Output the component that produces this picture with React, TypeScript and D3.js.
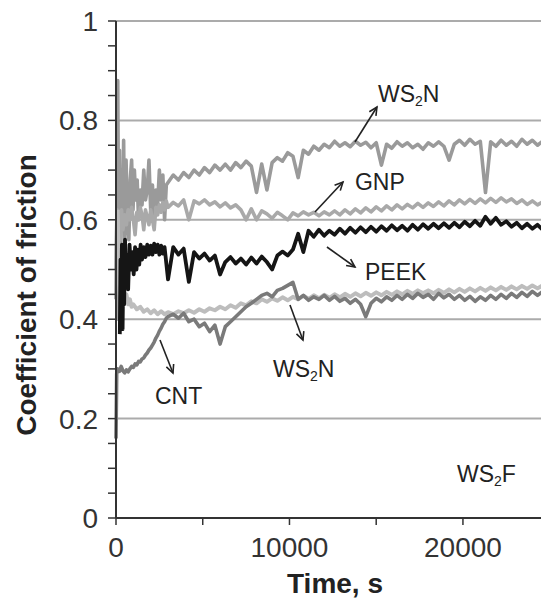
import React from 'react';
import * as d3 from 'd3';

const W = 541;
const H = 601;

// ---------- data ----------
const TIME = [3000, 3300, 3600, 3900, 4200, 4500, 4800, 5100, 5400, 5700, 6000, 6300, 6600, 6900, 7200, 7500, 7800, 8100, 8400, 8700, 9000, 9300, 9600, 9900, 10200, 10500, 10800, 11100, 11400, 11700, 12000, 12300, 12600, 12900, 13200, 13500, 13800, 14100, 14400, 14700, 15000, 15300, 15600, 15900, 16200, 16500, 16800, 17100, 17400, 17700, 18000, 18300, 18600, 18900, 19200, 19500, 19800, 20100, 20400, 20700, 21000, 21300, 21600, 21900, 22200, 22500, 22800, 23100, 23400, 23700, 24000, 24300, 24600];

const ws2nTopEarly: [number, number][] = [[0, 0.44], [50, 0.62], [100, 0.88], [150, 0.58], [200, 0.74], [260, 0.52], [320, 0.7], [380, 0.6], [440, 0.76], [500, 0.55], [580, 0.72], [660, 0.6], [740, 0.56], [820, 0.68], [900, 0.72], [980, 0.62], [1060, 0.7], [1140, 0.64], [1220, 0.68], [1300, 0.6], [1400, 0.66], [1500, 0.63], [1600, 0.7], [1700, 0.64], [1800, 0.66], [1900, 0.72], [2000, 0.62], [2100, 0.67], [2200, 0.6], [2300, 0.66], [2400, 0.63], [2500, 0.7], [2600, 0.64], [2700, 0.69], [2800, 0.6], [2900, 0.67]];
const ws2nTop = [0.675, 0.69, 0.68, 0.695, 0.685, 0.7, 0.69, 0.705, 0.695, 0.71, 0.7, 0.712, 0.7, 0.715, 0.705, 0.718, 0.708, 0.655, 0.712, 0.66, 0.715, 0.725, 0.718, 0.735, 0.728, 0.685, 0.74, 0.732, 0.748, 0.74, 0.752, 0.745, 0.758, 0.748, 0.755, 0.747, 0.758, 0.75, 0.756, 0.745, 0.755, 0.71, 0.752, 0.744, 0.757, 0.748, 0.755, 0.745, 0.752, 0.742, 0.755, 0.748, 0.757, 0.748, 0.72, 0.752, 0.76, 0.75, 0.762, 0.752, 0.758, 0.655, 0.757, 0.748, 0.76, 0.75, 0.758, 0.748, 0.762, 0.752, 0.76, 0.75, 0.758];

const gnpEarly: [number, number][] = [[0, 0.5], [60, 0.62], [120, 0.4], [180, 0.6], [250, 0.56], [320, 0.62], [400, 0.58], [500, 0.61], [600, 0.59], [700, 0.62], [800, 0.6], [900, 0.625], [1000, 0.6], [1100, 0.57], [1200, 0.615], [1300, 0.6], [1400, 0.625], [1500, 0.61], [1600, 0.58], [1700, 0.62], [1800, 0.605], [1900, 0.59], [2000, 0.62], [2100, 0.6], [2200, 0.58], [2300, 0.625], [2400, 0.61], [2500, 0.63], [2600, 0.615], [2700, 0.635], [2800, 0.62], [2900, 0.638]];
const gnp = [0.625, 0.635, 0.628, 0.64, 0.6, 0.638, 0.632, 0.64, 0.63, 0.636, 0.626, 0.634, 0.624, 0.63, 0.62, 0.6, 0.622, 0.6, 0.618, 0.612, 0.603, 0.615, 0.608, 0.6, 0.614, 0.608, 0.616, 0.61, 0.615, 0.608, 0.616, 0.61, 0.618, 0.61, 0.62, 0.612, 0.622, 0.614, 0.624, 0.616, 0.626, 0.618, 0.628, 0.62, 0.63, 0.622, 0.631, 0.624, 0.633, 0.625, 0.634, 0.627, 0.636, 0.628, 0.638, 0.63, 0.64, 0.632, 0.641, 0.633, 0.642, 0.634, 0.643, 0.635, 0.644, 0.636, 0.642, 0.633, 0.64, 0.631, 0.638, 0.63, 0.636];

const ws2nLowEarly: [number, number][] = [[100, 0.62], [150, 0.48], [220, 0.45], [300, 0.44], [400, 0.46], [500, 0.44], [600, 0.45], [700, 0.43], [800, 0.44], [900, 0.425], [1000, 0.43], [1200, 0.42], [1400, 0.425], [1600, 0.415], [1800, 0.42], [2000, 0.412], [2200, 0.418], [2400, 0.41], [2600, 0.416], [2800, 0.41]];
const ws2nLow = [0.414, 0.41, 0.416, 0.412, 0.418, 0.413, 0.42, 0.415, 0.422, 0.418, 0.425, 0.42, 0.428, 0.423, 0.432, 0.428, 0.436, 0.432, 0.44, 0.435, 0.442, 0.437, 0.444, 0.438, 0.445, 0.44, 0.447, 0.441, 0.448, 0.442, 0.449, 0.443, 0.45, 0.444, 0.451, 0.445, 0.452, 0.446, 0.453, 0.447, 0.454, 0.448, 0.455, 0.449, 0.456, 0.45, 0.457, 0.451, 0.458, 0.452, 0.458, 0.452, 0.459, 0.453, 0.46, 0.454, 0.461, 0.455, 0.462, 0.456, 0.463, 0.457, 0.464, 0.458, 0.465, 0.459, 0.466, 0.46, 0.467, 0.461, 0.468, 0.462, 0.468];

const cntEarly: [number, number][] = [[0, 0.16], [40, 0.29], [100, 0.3], [200, 0.295], [300, 0.305], [400, 0.296], [500, 0.292], [600, 0.298], [700, 0.294], [800, 0.3], [900, 0.305], [1000, 0.303], [1100, 0.31], [1200, 0.308], [1300, 0.315], [1400, 0.314], [1500, 0.32], [1600, 0.322], [1700, 0.328], [1800, 0.332], [1900, 0.338], [2000, 0.342], [2100, 0.348], [2200, 0.354], [2300, 0.362], [2400, 0.368], [2500, 0.376], [2600, 0.382], [2700, 0.39], [2800, 0.395], [2900, 0.402]];
const cnt = [0.405, 0.41, 0.402, 0.412, 0.395, 0.4, 0.385, 0.392, 0.375, 0.388, 0.35, 0.385, 0.395, 0.405, 0.415, 0.425, 0.432, 0.44, 0.448, 0.452, 0.445, 0.458, 0.462, 0.468, 0.474, 0.44, 0.448, 0.438, 0.445, 0.44, 0.448, 0.438, 0.446, 0.436, 0.442, 0.432, 0.44, 0.43, 0.405, 0.432, 0.442, 0.435, 0.445, 0.438, 0.448, 0.44, 0.45, 0.442, 0.452, 0.444, 0.45, 0.44, 0.452, 0.443, 0.45, 0.44, 0.448, 0.438, 0.446, 0.436, 0.445, 0.438, 0.448, 0.44, 0.45, 0.442, 0.452, 0.444, 0.454, 0.446, 0.456, 0.448, 0.456];

const peekEarly: [number, number][] = [[220, 0.37], [260, 0.52], [300, 0.41], [340, 0.55], [380, 0.38], [420, 0.5], [470, 0.43], [520, 0.56], [580, 0.47], [640, 0.53], [700, 0.46], [780, 0.55], [860, 0.5], [940, 0.535], [1020, 0.49], [1100, 0.545], [1180, 0.5], [1260, 0.54], [1340, 0.51], [1420, 0.55], [1500, 0.52], [1600, 0.545], [1700, 0.525], [1800, 0.55], [1900, 0.53], [2000, 0.548], [2100, 0.53], [2200, 0.552], [2300, 0.535], [2400, 0.55], [2500, 0.53], [2600, 0.548], [2700, 0.532], [2800, 0.545]];
const peek = [0.48, 0.545, 0.53, 0.542, 0.475, 0.535, 0.522, 0.532, 0.518, 0.528, 0.49, 0.515, 0.525, 0.512, 0.522, 0.51, 0.524, 0.512, 0.526, 0.515, 0.5, 0.528, 0.536, 0.528, 0.54, 0.572, 0.535, 0.578, 0.566, 0.58, 0.568, 0.578, 0.57, 0.582, 0.572, 0.584, 0.574, 0.585, 0.575, 0.586, 0.576, 0.587, 0.578, 0.589, 0.579, 0.588, 0.578, 0.59, 0.58, 0.591, 0.582, 0.592, 0.583, 0.593, 0.584, 0.594, 0.585, 0.596, 0.587, 0.598, 0.588, 0.606, 0.592, 0.604, 0.59, 0.597, 0.586, 0.594, 0.583, 0.592, 0.582, 0.59, 0.58];

const Y_TICKS = [0, 0.05, 0.1, 0.15, 0.2, 0.25, 0.3, 0.35, 0.4, 0.45, 0.5, 0.55, 0.6, 0.65, 0.7, 0.75, 0.8, 0.85, 0.9, 0.95, 1];
const Y_LABELS = [0, 0.2, 0.4, 0.6, 0.8, 1];
const GRID = [0.2, 0.4, 0.6, 0.8, 1];
const X_TICKS = [0, 5000, 10000, 15000, 20000];
const X_LABELS = [0, 10000, 20000];

// annotations: label text, label anchor (t, v), arrow from (t, v) to (t, v)
const ANNOTATIONS = [
  { main: 'WS', sub: '2', tail: 'N', t: 15101, v: 0.837, arrow: [[13775, 0.7565], [15043, 0.827]] },
  { main: 'GNP', sub: '', tail: '', t: 13775, v: 0.66, arrow: [[11470, 0.6157], [13084, 0.676]] },
  { main: 'PEEK', sub: '', tail: '', t: 14352, v: 0.479, arrow: [[12161, 0.5453], [13775, 0.505]] },
  { main: 'WS', sub: '2', tail: 'N', t: 9050, v: 0.284, arrow: [[10029, 0.4286], [10778, 0.358]] },
  { main: 'CNT', sub: '', tail: '', t: 2248, v: 0.229, arrow: [[2536, 0.358], [3285, 0.2918]] },
  { main: 'WS', sub: '2', tail: 'F', t: 19654, v: 0.072, arrow: null },
];

type Series = { name: string; early: [number, number][]; main: number[]; color: string; width: number };
const SERIES: Series[] = [
  { name: 'WS2N-top', early: ws2nTopEarly, main: ws2nTop, color: '#9a9a9a', width: 3.6 },
  { name: 'GNP', early: gnpEarly, main: gnp, color: '#a9a9a9', width: 3.6 },
  { name: 'WS2N-low', early: ws2nLowEarly, main: ws2nLow, color: '#bdbdbd', width: 4 },
  { name: 'CNT', early: cntEarly, main: cnt, color: '#7a7a7a', width: 3.6 },
  { name: 'PEEK', early: peekEarly, main: peek, color: '#151515', width: 3.8 },
];

export default function App() {
  const x = d3.scaleLinear().domain([0, 24500]).range([116, 541]);
  const y = d3.scaleLinear().domain([0, 1]).range([518, 21]);
  const line = d3
    .line<[number, number]>()
    .x((d) => x(d[0]))
    .y((d) => y(d[1]));

  const font = '"Liberation Sans", Arial, Helvetica, sans-serif';
  const axisColor = '#333';

  const arrowHead = (x1: number, y1: number, x2: number, y2: number) => {
    const ang = Math.atan2(y2 - y1, x2 - x1);
    const len = 9;
    const spread = Math.PI / 7;
    const a1 = ang + Math.PI - spread;
    const a2 = ang + Math.PI + spread;
    return `M${x2 + len * Math.cos(a1)},${y2 + len * Math.sin(a1)}L${x2},${y2}L${x2 + len * Math.cos(a2)},${y2 + len * Math.sin(a2)}`;
  };

  return (
    <svg
      width={W}
      height={H}
      style={{ position: 'absolute', left: 0, top: 0, background: '#fff' }}
      fontFamily={font}
    >
      <rect x={0} y={0} width={W} height={H} fill="#fff" />
      {/* grid */}
      {GRID.map((g) => (
        <line key={g} x1={x(0)} x2={W} y1={y(g)} y2={y(g)} stroke="#ababab" strokeWidth={2} />
      ))}
      {/* series */}
      {SERIES.map((s) => {
        const pts: [number, number][] = [...s.early, ...s.main.map((v, i) => [TIME[i], v] as [number, number])];
        return (
          <path
            key={s.name}
            d={line(pts) || ''}
            fill="none"
            stroke={s.color}
            strokeWidth={s.width}
            strokeLinejoin="round"
          />
        );
      })}
      {/* axes */}
      <line x1={x(0)} x2={x(0)} y1={y(0)} y2={y(1)} stroke={axisColor} strokeWidth={2} />
      <line x1={x(0)} x2={W} y1={y(0)} y2={y(0)} stroke={axisColor} strokeWidth={2} />
      {Y_TICKS.map((t) => (
        <line key={t} x1={x(0) - 8} x2={x(0)} y1={y(t)} y2={y(t)} stroke={axisColor} strokeWidth={1.5} />
      ))}
      {X_TICKS.map((t) => (
        <line key={t} x1={x(t)} x2={x(t)} y1={y(0)} y2={y(0) + 7} stroke={axisColor} strokeWidth={1.5} />
      ))}
      {Y_LABELS.map((t) => (
        <text key={t} x={x(0) - 18} y={y(t)} dy="0.36em" textAnchor="end" fontSize={28} fill="#333">
          {d3.format('~g')(t)}
        </text>
      ))}
      {X_LABELS.map((t) => (
        <text key={t} x={x(t)} y={557} textAnchor="middle" fontSize={28} fill="#333">
          {t}
        </text>
      ))}
      {/* axis titles */}
      <text x={335} y={593} textAnchor="middle" fontSize={28} fontWeight="bold" fill="#222">
        Time, s
      </text>
      <text
        transform={`translate(36, 295) rotate(-90)`}
        textAnchor="middle"
        fontSize={28}
        fontWeight="bold"
        fill="#222"
      >
        Coefficient of friction
      </text>
      {/* annotations */}
      {ANNOTATIONS.map((a, i) => (
        <g key={i}>
          <text x={x(a.t)} y={y(a.v)} fontSize={23} fill="#222">
            {a.main}
            {a.sub ? (
              <tspan fontSize={14} dy={4}>
                {a.sub}
              </tspan>
            ) : null}
            {a.tail ? <tspan dy={a.sub ? -4 : 0}>{a.tail}</tspan> : null}
          </text>
          {a.arrow ? (
            <g stroke="#222" strokeWidth={1.6} fill="none">
              <line x1={x(a.arrow[0][0])} y1={y(a.arrow[0][1])} x2={x(a.arrow[1][0])} y2={y(a.arrow[1][1])} />
              <path d={arrowHead(x(a.arrow[0][0]), y(a.arrow[0][1]), x(a.arrow[1][0]), y(a.arrow[1][1]))} />
            </g>
          ) : null}
        </g>
      ))}
    </svg>
  );
}
